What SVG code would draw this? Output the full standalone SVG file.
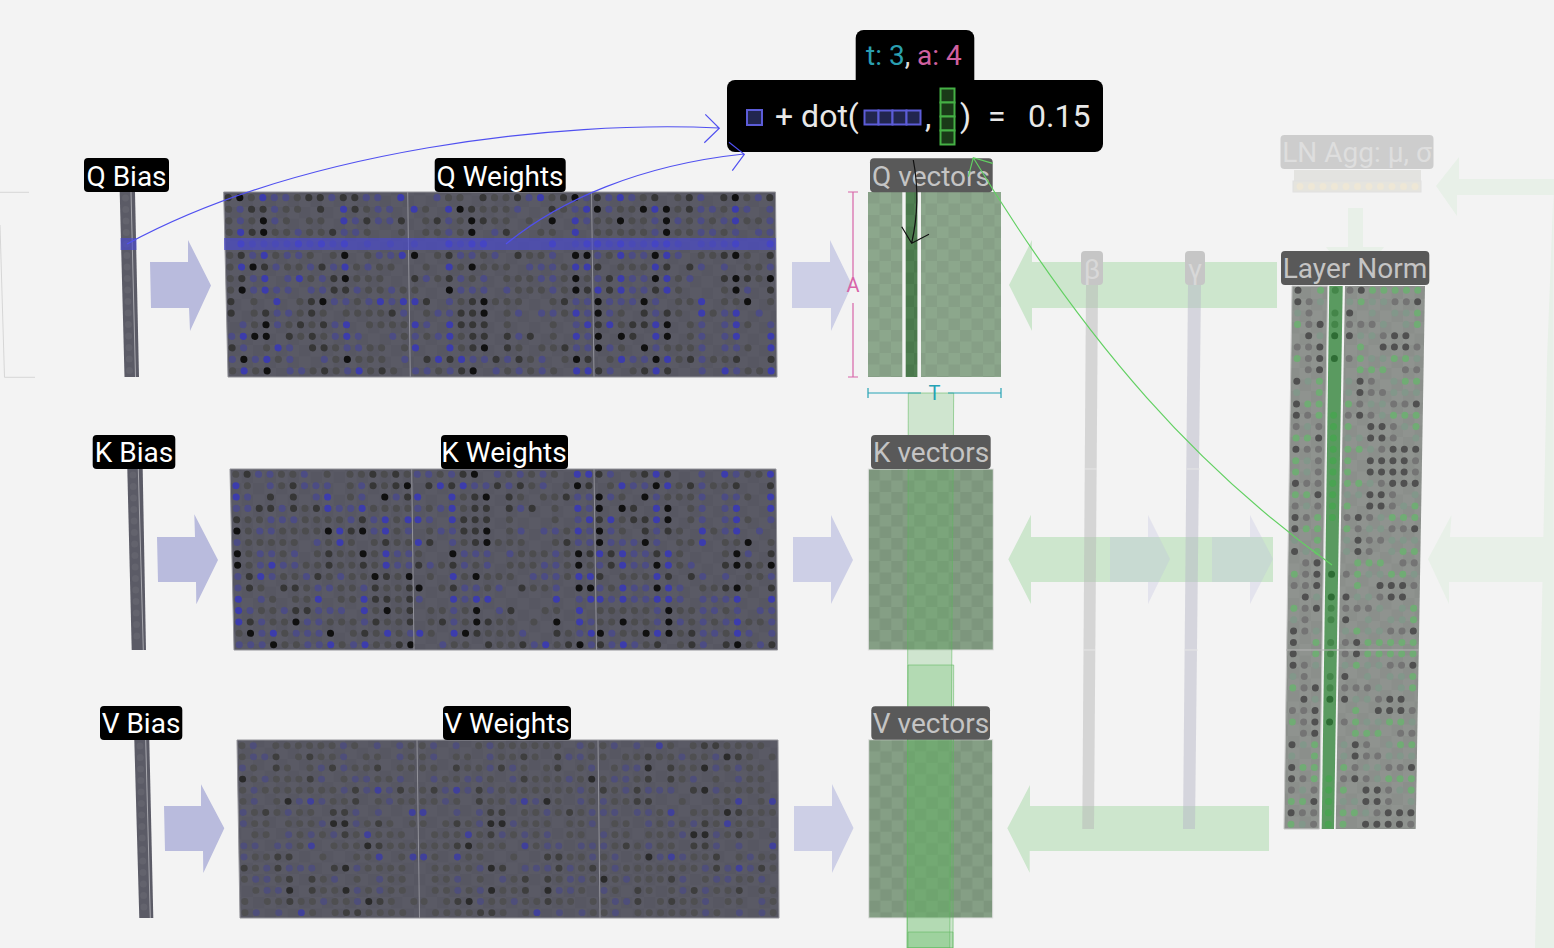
<svg xmlns="http://www.w3.org/2000/svg" width="1554" height="948" viewBox="0 0 1554 948">
<style>
text{font-family:Roboto,"Noto Sans",sans-serif}
.k,.d,.g,.b,.p,.lD,.lM,.lG,.lF,.mk,.mm,.ml{fill:none;stroke-linecap:round;stroke-width:.62}
.k{stroke:var(--k,#101010)}.d{stroke:var(--d,#363636)}.g{stroke:var(--g,#4c4c4e)}.b{stroke:var(--b,#3c3cac)}.p{stroke:var(--p,#4c4c84)}
.lD{stroke:#505050}.lM{stroke:#747474}.lG{stroke:#70ac74}.lF{stroke:#82978a}.mk{stroke:#2e6c34}.mm{stroke:#448549}.ml{stroke:#4aa352}
.faint{--k:#2a2a2a;--d:#3e3e3e;--g:#4f4f51;--b:#40409a;--p:#4e4e7a}
.lbl{fill:#000}.lt{fill:#fff;font-size:28px;text-anchor:middle}
.flbl{fill:#595959}.ft{fill:#c4c4c4;font-size:28px;text-anchor:middle}
.pa{fill:#b9bbdd}.pb{fill:#cdcfe6}.ga{fill:#cde6cd}.gf{fill:#e8f0e8}
.panel{stroke:#94949a;stroke-width:1}
.div{stroke:#92929a;stroke-width:1;fill:none}
.col{fill:#5cb85c;fill-opacity:.24;stroke:#5cb85c;stroke-opacity:.55;stroke-width:1}
.biasd{fill:none;stroke:#63636d;stroke-width:7;stroke-linecap:round;stroke-dasharray:0 11.5}
.bl{fill:none;stroke:#5050f0;stroke-width:1.2}
.gr{fill:none;stroke:#62d062;stroke-width:1.2}
.bk{fill:none;stroke:#111;stroke-width:1.2}
.dimA{fill:none;stroke:#d864a8;stroke-width:1.2}
.dimT{fill:none;stroke:#26a3b5;stroke-width:1.2}
.c1{fill:#22264f;stroke:#5c5cd8;stroke-width:2}
.c2{fill:#1a3a18;stroke:#45b045;stroke-width:2}
</style>
<defs>
<pattern id="cw" width="23" height="23" patternUnits="userSpaceOnUse"><rect width="23" height="23" fill="#5a5a65"/><rect width="11.5" height="11.5" fill="#575762"/><rect x="11.5" y="11.5" width="11.5" height="11.5" fill="#575762"/></pattern>
<pattern id="cq" width="23" height="23" patternUnits="userSpaceOnUse"><rect width="23" height="23" fill="#8ca78c"/><rect width="11.5" height="11.5" fill="#869f86"/><rect x="11.5" y="11.5" width="11.5" height="11.5" fill="#869f86"/></pattern>
<pattern id="ck" width="23" height="23" patternUnits="userSpaceOnUse"><rect width="23" height="23" fill="#859f85"/><rect width="11.5" height="11.5" fill="#7d967d"/><rect x="11.5" y="11.5" width="11.5" height="11.5" fill="#7d967d"/></pattern>
<pattern id="cm" width="23" height="23" patternUnits="userSpaceOnUse"><rect width="23" height="23" fill="#507f52"/><rect width="11.5" height="11.5" fill="#4a784c"/><rect x="11.5" y="11.5" width="11.5" height="11.5" fill="#4a784c"/></pattern>
<pattern id="cl" width="23" height="23" patternUnits="userSpaceOnUse"><rect width="23" height="23" fill="#8f938f"/><rect width="11.5" height="11.5" fill="#8b8f8b"/><rect x="11.5" y="11.5" width="11.5" height="11.5" fill="#8b8f8b"/></pattern>
<g id="Q1">
<path class="k" d="M1 0h0M3 2h0M3 3h0M10 5h0M2 6h0M10 7h0M1 8h0M8 9h0M3 11h0M2 12h0M3 12h0M1 14h0M10 14h0M3 15h0"/>
<path class="d" d="M0 0h0M7 0h0M8 0h0M10 0h0M11 0h0M2 1h0M3 1h0M8 1h0M11 1h0M12 2h0M15 2h0M2 3h0M9 3h0M1 5h0M3 6h0M8 6h0M1 7h0M9 7h0M9 8h0M10 8h0M0 9h0M7 9h0M0 10h0M3 10h0M7 10h0M14 10h0M6 11h0M8 11h0M5 12h0M7 12h0M0 13h0M7 13h0M8 13h0M8 15h0M13 15h0"/>
<path class="b" d="M3 0h0M15 0h0M10 1h0M10 2h0M1 3h0M1 4h0M6 4h0M8 4h0M10 4h0M3 5h0M15 5h0M1 6h0M10 6h0M3 7h0M6 7h0M3 8h0M4 9h0M13 9h0M15 9h0M10 11h0M1 12h0M10 12h0M4 13h0M3 14h0M1 15h0M11 15h0"/>
<path class="p" d="M4 0h0M5 0h0M9 0h0M12 0h0M13 0h0M1 1h0M4 1h0M13 1h0M14 1h0M1 2h0M4 2h0M11 2h0M13 2h0M14 2h0M6 3h0M10 3h0M11 3h0M2 4h0M3 4h0M4 4h0M5 4h0M7 4h0M9 4h0M12 4h0M14 4h0M2 5h0M5 5h0M6 5h0M13 5h0M14 5h0M4 6h0M7 6h0M9 6h0M12 6h0M2 7h0M5 7h0M8 7h0M2 8h0M4 8h0M5 8h0M7 8h0M8 8h0M11 8h0M14 8h0M9 9h0M10 9h0M12 9h0M14 9h0M4 10h0M5 10h0M15 10h0M1 11h0M4 11h0M9 11h0M0 12h0M9 12h0M11 12h0M14 12h0M1 13h0M5 13h0M10 13h0M11 13h0M0 14h0M2 14h0M5 14h0M8 14h0M15 14h0M5 15h0M6 15h0M10 15h0"/>
<path class="g" d="M2 0h0M6 0h0M0 1h0M5 1h0M6 1h0M12 1h0M0 2h0M2 2h0M5 2h0M7 2h0M8 2h0M0 3h0M4 3h0M5 3h0M7 3h0M8 3h0M12 3h0M15 3h0M0 5h0M4 5h0M7 5h0M9 5h0M12 5h0M0 6h0M5 6h0M6 6h0M11 6h0M13 6h0M14 6h0M0 7h0M7 7h0M11 7h0M12 7h0M13 7h0M0 8h0M12 8h0M13 8h0M15 8h0M2 9h0M6 9h0M11 9h0M2 10h0M6 10h0M8 10h0M10 10h0M11 10h0M12 10h0M13 10h0M2 11h0M5 11h0M7 11h0M12 11h0M13 11h0M14 11h0M15 11h0M6 12h0M8 12h0M15 12h0M3 13h0M9 13h0M12 13h0M13 13h0M15 13h0M4 14h0M9 14h0M11 14h0M12 14h0M13 14h0M0 15h0M2 15h0M7 15h0M9 15h0M12 15h0M14 15h0"/>
</g>
<g id="Q2">
<path class="k" d="M14 0h0M4 1h0M5 2h0M12 2h0M5 3h0M0 5h0M14 5h0M15 5h0M5 6h0M14 7h0M3 8h0M14 8h0M6 9h0M6 10h0M6 13h0M14 14h0M5 15h0"/>
<path class="d" d="M6 0h0M9 0h0M13 0h0M5 1h0M12 1h0M6 2h0M2 2h0M8 3h0M3 5h0M9 5h0M0 7h0M3 7h0M15 8h0M1 9h0M5 9h0M13 9h0M4 10h0M5 10h0M4 11h0M5 11h0M6 11h0M5 12h0M6 12h0M8 12h0M10 12h0M5 13h0M8 13h0M13 13h0M1 14h0M3 14h0M7 14h0M9 14h0M15 14h0M4 15h0"/>
<path class="b" d="M11 0h0M0 1h0M3 1h0M15 1h0M14 2h0M14 3h0M3 4h0M5 4h0M6 4h0M12 4h0M15 4h0M3 6h0M14 6h0M15 6h0M0 9h0M14 10h0M0 11h0M3 11h0M15 11h0M3 12h0M14 12h0M0 13h0M3 13h0M2 14h0M4 14h0M14 15h0M15 15h0"/>
<path class="p" d="M2 0h0M10 0h0M15 0h0M9 1h0M14 1h0M3 2h0M15 2h0M3 3h0M7 3h0M0 4h0M4 4h0M14 4h0M4 5h0M5 5h0M7 5h0M12 5h0M10 6h0M11 6h0M12 6h0M1 7h0M4 7h0M6 7h0M11 7h0M12 7h0M4 8h0M5 8h0M6 8h0M8 8h0M12 8h0M3 9h0M14 9h0M15 9h0M2 10h0M3 10h0M9 10h0M11 10h0M12 10h0M15 10h0M1 11h0M14 11h0M0 12h0M2 12h0M9 12h0M15 12h0M14 13h0M15 13h0M5 14h0M6 14h0M8 14h0M11 14h0M0 15h0M1 15h0M3 15h0M7 15h0M9 15h0M11 15h0"/>
<path class="g" d="M3 0h0M4 0h0M7 0h0M8 0h0M12 0h0M1 1h0M6 1h0M7 1h0M8 1h0M13 1h0M1 2h0M4 2h0M7 2h0M8 2h0M10 2h0M1 3h0M2 3h0M4 3h0M11 3h0M12 3h0M2 5h0M6 5h0M10 5h0M11 5h0M1 6h0M4 6h0M6 6h0M7 6h0M8 6h0M13 6h0M2 7h0M5 7h0M8 7h0M9 7h0M10 7h0M13 7h0M15 7h0M0 8h0M9 8h0M10 8h0M11 8h0M13 8h0M4 9h0M7 9h0M8 9h0M9 9h0M12 9h0M1 10h0M8 10h0M13 10h0M8 11h0M12 11h0M1 12h0M4 12h0M12 12h0M4 13h0M9 13h0M11 13h0M12 13h0M10 14h0M13 14h0M2 15h0M8 15h0M10 15h0M12 15h0"/>
</g>
<g id="Q3">
<path class="k" d="M12 0h0M0 1h0M4 1h0M6 1h0M2 2h0M6 2h0M6 3h0M5 5h0M12 5h0M5 7h0M12 7h0M15 7h0M12 8h0M0 9h0M4 9h0M13 9h0M0 10h0M6 11h0M0 12h0M2 12h0M6 12h0M0 13h0M4 13h0M5 14h0"/>
<path class="d" d="M0 0h0M5 0h0M8 0h0M11 0h0M15 0h0M8 1h0M11 5h0M15 5h0M0 6h0M6 6h0M8 6h0M1 7h0M11 7h0M13 7h0M1 8h0M5 8h0M15 8h0M4 10h0M6 10h0M0 11h0M3 11h0M4 11h0M3 12h0M8 14h0M12 14h0M15 14h0M0 15h0M4 15h0M6 15h0"/>
<path class="b" d="M2 0h0M5 1h0M12 1h0M12 2h0M0 4h0M2 4h0M5 4h0M6 4h0M12 4h0M15 4h0M2 5h0M6 5h0M5 6h0M2 7h0M6 7h0M0 8h0M2 8h0M6 8h0M9 9h0M9 10h0M12 10h0M1 11h0M5 11h0M12 11h0M5 12h0M12 12h0M15 12h0M15 13h0M2 14h0M6 14h0M5 15h0M11 15h0M15 15h0"/>
<path class="p" d="M1 0h0M3 0h0M9 0h0M14 0h0M1 1h0M9 1h0M10 1h0M13 1h0M15 1h0M5 2h0M7 2h0M9 2h0M11 2h0M15 2h0M5 3h0M9 3h0M10 3h0M12 3h0M14 3h0M15 3h0M1 4h0M3 4h0M4 4h0M7 4h0M9 4h0M10 4h0M11 4h0M0 5h0M3 5h0M4 5h0M7 5h0M9 6h0M11 6h0M15 6h0M0 7h0M3 7h0M4 7h0M8 7h0M3 8h0M4 8h0M13 8h0M1 9h0M2 9h0M3 9h0M5 9h0M1 10h0M5 10h0M11 10h0M14 10h0M9 11h0M11 11h0M15 11h0M9 12h0M11 12h0M1 13h0M5 13h0M9 13h0M11 13h0M12 13h0M3 14h0M4 14h0M9 14h0M1 15h0M9 15h0M12 15h0"/>
<path class="g" d="M4 0h0M7 0h0M13 0h0M2 1h0M3 1h0M7 1h0M11 1h0M0 2h0M1 2h0M3 2h0M4 2h0M8 2h0M10 2h0M13 2h0M14 2h0M0 3h0M1 3h0M2 3h0M3 3h0M4 3h0M7 3h0M8 3h0M11 3h0M1 5h0M9 5h0M10 5h0M13 5h0M2 6h0M3 6h0M4 6h0M13 6h0M14 6h0M7 7h0M14 7h0M7 8h0M11 8h0M7 9h0M8 9h0M11 9h0M12 9h0M15 9h0M2 10h0M7 10h0M10 10h0M2 11h0M8 11h0M13 11h0M8 12h0M2 13h0M6 13h0M7 13h0M8 13h0M13 13h0M1 14h0M7 14h0M10 14h0M11 14h0M3 15h0M13 15h0M14 15h0"/>
</g>
<g id="K1">
<path class="k" d="M15 1h0M13 2h0M0 5h0M8 5h0M11 5h0M0 7h0M11 7h0M0 8h0M12 9h0M15 9h0M13 12h0M5 13h0M1 14h0M8 14h0M3 15h0M15 15h0"/>
<path class="d" d="M1 0h0M12 0h0M14 0h0M5 1h0M12 1h0M14 1h0M3 2h0M5 2h0M15 2h0M2 3h0M3 3h0M5 3h0M7 3h0M0 4h0M11 4h0M10 5h0M13 6h0M8 7h0M8 8h0M11 8h0M1 9h0M7 9h0M13 9h0M1 10h0M4 10h0M5 10h0M12 10h0M15 10h0M12 11h0M13 11h0M15 11h0M5 12h0M6 12h0M15 12h0M1 13h0M12 13h0M15 13h0M11 14h0M14 15h0"/>
<path class="b" d="M0 1h0M0 2h0M8 2h0M8 3h0M11 3h0M13 4h0M15 4h0M9 5h0M13 5h0M9 6h0M13 7h0M3 8h0M13 8h0M2 9h0M0 11h0M7 11h0M11 11h0M0 12h0M11 12h0M0 13h0M3 14h0M13 14h0M8 15h0M11 15h0"/>
<path class="p" d="M2 0h0M3 0h0M6 0h0M3 1h0M6 1h0M7 1h0M8 1h0M11 1h0M1 2h0M7 2h0M11 2h0M14 2h0M0 3h0M1 3h0M4 3h0M9 3h0M10 3h0M3 4h0M4 4h0M5 4h0M10 4h0M12 4h0M2 5h0M3 5h0M12 5h0M15 5h0M0 6h0M7 6h0M2 7h0M3 7h0M5 7h0M14 7h0M15 7h0M2 8h0M4 8h0M5 8h0M14 8h0M15 8h0M0 9h0M3 9h0M6 9h0M9 9h0M0 10h0M7 10h0M8 10h0M11 10h0M2 11h0M1 12h0M4 12h0M7 12h0M8 12h0M9 12h0M2 13h0M6 13h0M7 13h0M11 13h0M2 14h0M5 14h0M6 14h0M7 14h0M15 14h0M0 15h0M1 15h0M2 15h0M6 15h0M7 15h0M10 15h0"/>
<path class="g" d="M0 0h0M4 0h0M5 0h0M8 0h0M10 0h0M11 0h0M13 0h0M15 0h0M1 1h0M4 1h0M10 1h0M13 1h0M10 2h0M6 3h0M12 3h0M13 3h0M14 3h0M15 3h0M1 4h0M2 4h0M6 4h0M7 4h0M8 4h0M9 4h0M14 4h0M1 5h0M4 5h0M5 5h0M6 5h0M7 5h0M14 5h0M1 6h0M2 6h0M3 6h0M4 6h0M5 6h0M8 6h0M10 6h0M12 6h0M14 6h0M15 6h0M1 7h0M4 7h0M7 7h0M9 7h0M10 7h0M12 7h0M1 8h0M6 8h0M7 8h0M9 8h0M10 8h0M12 8h0M4 9h0M5 9h0M8 9h0M10 9h0M11 9h0M14 9h0M2 10h0M6 10h0M9 10h0M10 10h0M13 10h0M14 10h0M3 11h0M5 11h0M6 11h0M9 11h0M10 11h0M14 11h0M2 12h0M3 12h0M12 12h0M14 12h0M3 13h0M4 13h0M8 13h0M9 13h0M10 13h0M13 13h0M14 13h0M0 14h0M4 14h0M10 14h0M12 14h0M14 14h0M4 15h0M5 15h0M9 15h0M12 15h0M13 15h0"/>
</g>
<g id="V1">
<path class="k" d="M0 3h0M4 5h0M8 7h0M9 7h0M11 9h0M9 11h0M4 13h0M9 13h0M11 14h0"/>
<path class="d" d="M3 1h0M6 1h0M3 2h0M8 2h0M12 2h0M6 3h0M10 4h0M14 4h0M10 5h0M2 6h0M8 6h0M9 6h0M12 7h0M9 8h0M12 9h0M3 10h0M4 10h0M0 11h0M3 11h0M8 11h0M4 12h0M6 12h0M6 13h0M4 14h0M12 14h0M9 15h0M10 15h0"/>
<path class="b" d="M12 4h0M6 5h0M15 6h0M11 8h0M6 9h0M12 10h0M15 10h0M5 15h0"/>
<path class="p" d="M1 0h0M9 0h0M12 0h0M14 0h0M1 1h0M2 1h0M9 1h0M14 1h0M0 2h0M7 2h0M9 2h0M2 3h0M7 3h0M10 3h0M11 3h0M14 3h0M1 4h0M9 4h0M11 4h0M13 4h0M1 5h0M5 5h0M7 5h0M13 5h0M0 6h0M4 6h0M10 6h0M12 6h0M0 7h0M7 7h0M10 7h0M4 8h0M6 8h0M8 8h0M0 9h0M1 9h0M3 9h0M4 9h0M0 10h0M2 11h0M4 11h0M5 11h0M6 11h0M10 11h0M1 12h0M2 12h0M8 12h0M12 12h0M2 13h0M3 13h0M10 13h0M12 13h0M7 14h0M10 14h0M1 15h0M3 15h0"/>
<path class="g" d="M0 0h0M3 0h0M4 0h0M5 0h0M6 0h0M7 0h0M8 0h0M10 0h0M15 0h0M0 1h0M5 1h0M7 1h0M8 1h0M11 1h0M12 1h0M15 1h0M1 2h0M4 2h0M6 2h0M10 2h0M11 2h0M14 2h0M15 2h0M1 3h0M3 3h0M4 3h0M5 3h0M9 3h0M12 3h0M13 3h0M0 4h0M2 4h0M3 4h0M4 4h0M5 4h0M6 4h0M7 4h0M8 4h0M15 4h0M0 5h0M3 5h0M8 5h0M9 5h0M12 5h0M14 5h0M15 5h0M1 6h0M3 6h0M5 6h0M6 6h0M1 7h0M2 7h0M4 7h0M5 7h0M6 7h0M11 7h0M13 7h0M15 7h0M1 8h0M2 8h0M5 8h0M7 8h0M10 8h0M12 8h0M13 8h0M14 8h0M5 9h0M8 9h0M9 9h0M10 9h0M13 9h0M14 9h0M15 9h0M1 10h0M2 10h0M7 10h0M10 10h0M11 10h0M14 10h0M1 11h0M11 11h0M12 11h0M13 11h0M14 11h0M0 12h0M3 12h0M7 12h0M10 12h0M13 12h0M14 12h0M1 13h0M7 13h0M8 13h0M11 13h0M13 13h0M14 13h0M0 14h0M2 14h0M3 14h0M5 14h0M6 14h0M8 14h0M9 14h0M13 14h0M15 14h0M0 15h0M6 15h0M8 15h0M11 15h0M12 15h0M13 15h0M14 15h0"/>
</g>
<g id="L1">
<path class="lD" d="M0 0h0M5.6 0h0M0 1h0M10.6 1h0M4.6 2h0M2 3h0M1 4h0M4.6 4h0M8.6 4h0M9.6 4h0M2 5h0M7.6 5h0M8.6 5h0M9.6 5h0M2 6h0M2 7h0M0 8h0M5.6 8h0M5.6 9h0M0 10h0M10.6 10h0M0 11h0M5.6 11h0M6.6 12h0M7.6 12h0M2 13h0M6.6 13h0M7.6 13h0M0 14h0M8.6 14h0M9.6 14h0M10.6 14h0M6.6 15h0M7.6 15h0M8.6 15h0M9.6 15h0"/>
<path class="lM" d="M4.6 0h0M1 1h0M8.6 1h0M9.6 1h0M1 2h0M1 3h0M4.6 3h0M5.6 3h0M6.6 3h0M7.6 4h0M0 5h0M1 5h0M10.6 5h0M1 6h0M4.6 6h0M1 7h0M9.6 7h0M10.6 7h0M6.6 8h0M6.6 9h0M7.6 9h0M5.6 10h0M8.6 10h0M9.6 10h0M1 11h0M4.6 11h0M6.6 11h0M0 12h0M2 12h0M8.6 12h0M8.6 13h0M1 14h0M2 14h0M7.6 14h0M2 15h0M10.6 15h0"/>
<path class="lG" d="M2 0h0M6.6 0h0M7.6 0h0M8.6 0h0M9.6 0h0M10.6 0h0M5.6 1h0M10.6 2h0M0 3h0M10.6 3h0M5.6 5h0M0 6h0M5.6 6h0M8.6 6h0M9.6 6h0M5.6 7h0M6.6 7h0M7.6 7h0M2 8h0M9.6 8h0M10.6 8h0M2 9h0M1 10h0M2 10h0M4.6 10h0M2 11h0M8.6 11h0M9.6 11h0M10.6 11h0M4.6 12h0M10.6 12h0M0 13h0M1 13h0M4.6 14h0M5.6 14h0M0 15h0M4.6 15h0"/>
<path class="lF" d="M2 1h0M4.6 1h0M6.6 1h0M7.6 1h0M0 2h0M6.6 2h0M8.6 2h0M9.6 2h0M7.6 3h0M9.6 3h0M2 4h0M5.6 4h0M6.6 4h0M6.6 6h0M7.6 6h0M10.6 6h0M1 8h0M4.6 8h0M8.6 8h0M0 9h0M4.6 9h0M8.6 9h0M9.6 9h0M10.6 9h0M6.6 10h0M7.6 10h0M7.6 11h0M1 12h0M9.6 12h0M4.6 13h0M5.6 13h0M10.6 13h0M6.6 14h0M1 15h0"/>
<path class="mk" d="M3.3 4h0M3.3 6h0"/>
<path class="mm" d="M3.3 0h0M3.3 2h0M3.3 3h0"/>
<path class="ml" d="M3.3 11h0M3.3 12h0M3.3 13h0M3.3 14h0M3.3 15h0"/>
</g>
</defs>

<rect width="1554" height="948" fill="#f3f3f3"/>

<g id="faded-bracket" fill="none" stroke="#d6d6d6" stroke-width="1"><path d="M0 192.3H29M0 225L4.5 377.3H35"/></g>

<g id="lnagg">
<polygon class="gf" points="1554,179 1459,179 1459,157 1436,186 1457,216 1457,195 1554,195"/>
<polygon class="gf" points="1348,208 1363,208 1363,247 1384,247 1356,285 1326,247 1348,247"/>
<rect x="1294" y="170" width="127" height="11" fill="#e3e3e0"/>
<rect x="1293" y="181" width="128" height="11" fill="#e5e4de" stroke="#e0e0e0"/>
<path d="M1300 186.5H1416" fill="none" stroke="#eee7d6" stroke-width="7" stroke-linecap="round" stroke-dasharray="0 11.5"/>
<rect x="1280.500" y="135" width="153" height="34" rx="4" fill="#cdcdcd"/>
<text x="1357" y="162" font-size="28" text-anchor="middle" fill="#dedede">LN Agg: μ, σ</text>
</g>

<g id="faded-flow">
<polygon class="gf" points="1553.500,190 1554,948 1535,948 1547,360"/>
<polygon class="gf" points="1544,537 1450,537 1451.500,515 1428,559 1449,604 1449,582 1544,582"/>
</g>

<g id="green-arrows">
<polygon class="ga" points="1277,262 1032,262 1032,240 1009,285 1032,331 1032,308 1277,308"/>
<polygon class="ga" points="1273,537 1031,537 1031,514.700 1008.300,559.300 1031,604 1031,582 1273,582"/>
<polygon class="ga" points="1269,806 1030,806 1030,785 1007.300,828.300 1029.700,872.700 1029.700,851 1269,851"/>
</g>

<g id="beta">
<polygon points="1086,285 1098,285 1094,829 1082.300,829" fill="#b8b8b8" fill-opacity=".5"/>
<path d="M1085 469H1097M1083 650H1095" stroke="#e6e6e6" fill="none"/>
<rect x="1081" y="251" width="22" height="34" rx="4" fill="#c6c6c6"/>
<text x="1092" y="279" font-size="28" text-anchor="middle" fill="#d8d8d8">β</text>
</g>
<g id="gamma">
<polygon points="1188,285 1201,285 1195,829 1183,829" fill="#b8b8c8" fill-opacity=".5"/>
<path d="M1187 469H1200M1185 650H1198" stroke="#e6e6e6" fill="none"/>
<rect x="1185" y="251" width="20" height="34" rx="4" fill="#c6c6c6"/>
<text x="1195" y="279" font-size="28" text-anchor="middle" fill="#d8d8d8">γ</text>
</g>
<g id="purple-overlays">
<polygon points="1110,537 1148,537 1148,515 1170,559 1148,604 1148,582 1110,582" fill="#b9bbdd" fill-opacity=".28"/>
<polygon points="1212,537 1250,537 1250,515 1273,559 1250,604 1250,582 1212,582" fill="#b9bbdd" fill-opacity=".28"/>
</g>

<g id="q-bias">
<polygon points="119.700,192 135,192 139,377 124.500,377" fill="#5b5b66"/>
<path class="biasd" d="M125.500 198L129.500 372"/>
<path d="M131 192L135.500 377" stroke="#a8a8ae" fill="none"/>
<rect x="120.500" y="238" width="16" height="12" fill="#4a4ad0" fill-opacity=".65"/>
<rect class="lbl" x="84" y="158" width="85" height="34" rx="4"/><text class="lt" x="126.500" y="185.500">Q Bias</text>
</g>
<g id="k-bias">
<polygon points="127.300,469 142.700,469 146,650 131.700,650" fill="#5b5b66"/>
<path class="biasd" d="M133 475L137 645"/>
<path d="M138.300 469L143.300 650" stroke="#a8a8ae" fill="none"/>
<rect class="lbl" x="92.700" y="435" width="82.600" height="34" rx="4"/><text class="lt" x="134" y="462">K Bias</text>
</g>
<g id="v-bias">
<polygon points="134.300,740 149.300,740 153.300,918 139.300,918" fill="#5b5b66"/>
<path class="biasd" d="M140 746L144 912"/>
<path d="M145.700 740L150.300 918" stroke="#a8a8ae" fill="none"/>
<rect class="lbl" x="100" y="706" width="82.300" height="34" rx="4"/><text class="lt" x="141" y="733">V Bias</text>
</g>

<g id="purple-arrows">
<polygon class="pa" points="150,262 188,262 188,240 211,285.500 190,331 189,308 151,308"/>
<polygon class="pa" points="157,537 195,537 194.300,514.300 218,560 196.300,604.300 196,582 158,582"/>
<polygon class="pa" points="164,806 201,806 201,784.300 224.300,828.300 203.300,873 203,851 165,851"/>
<polygon class="pb" points="792,262 830,262 830,240 852,285 831,331 831,308 792,308"/>
<polygon class="pb" points="793,537 831,537 831,515 853,560 831,604 831,582 793,582"/>
<polygon class="pb" points="794,806 832,806 832,784 853.500,828 832,873 832,851 794,851"/>
</g>

<g id="q-weights">
<polygon class="panel" points="223.700,192 775.500,192 777,377 228,377" fill="url(#cw)"/>
<use href="#Q1" transform="matrix(11.5,0,.29,11.55,228.300,197.700)"/>
<use href="#Q2" transform="matrix(11.5,0,.11,11.55,414,197.700)"/>
<use href="#Q3" transform="matrix(11.5,0,.09,11.55,597.300,197.700)"/>
<path class="div" d="M407.700 192L410.300 377M591.500 192L594 377"/>
<rect x="224" y="238" width="552" height="12" fill="#4a4ad0" fill-opacity=".65"/>
<rect class="lbl" x="434.700" y="158" width="131" height="34" rx="4"/><text class="lt" x="500" y="185.500">Q Weights</text>
</g>
<g id="k-weights">
<polygon class="panel" points="230,469 776,469 777.500,650 234,650" fill="url(#cw)"/>
<use href="#K1" transform="matrix(11.43,0,.24,11.36,235.700,474.300)"/>
<use href="#Q2" transform="matrix(11.43,0,-.18,-11.36,420,644.700)"/>
<use href="#Q3" transform="matrix(11.43,0,-.1,-11.36,600.500,644.700)"/>
<path class="div" d="M411.700 469L414 650M594 469L596.500 650"/>
<rect class="lbl" x="441" y="435" width="127" height="34" rx="4"/><text class="lt" x="504" y="462">K Weights</text>
</g>
<g id="v-weights" class="faint">
<polygon class="panel" points="237,740 778,740 779,918 240,918" fill="url(#cw)"/>
<use href="#V1" transform="matrix(11.27,0,.2,11.13,242,745.700)"/>
<use href="#V1" transform="matrix(-11.27,0,.13,11.13,591.350,745.700)"/>
<use href="#V1" transform="matrix(11.27,0,-.08,-11.13,604.200,912.700)"/>
<path class="div" d="M417 740L419.500 918M598 740L600 918"/>
<rect class="lbl" x="443" y="706" width="128" height="34" rx="4"/><text class="lt" x="507" y="733">V Weights</text>
</g>

<g id="q-vectors">
<g transform="translate(868,192)">
<rect width="34.300" height="185" fill="url(#cq)"/>
<rect x="37.700" width="11.700" height="185" fill="url(#cm)"/>
<rect x="53" width="80" height="185" fill="url(#cq)"/>
</g>
<rect x="870" y="158.300" width="122.700" height="34" rx="4" class="flbl"/><text class="ft" x="931" y="185.500">Q vectors</text>
</g>
<g id="k-vectors">
<g transform="translate(868.300,469)"><rect width="125" height="181" fill="url(#ck)" stroke="#e0e0e0"/></g>
</g>
<g id="v-vectors">
<g transform="translate(868.700,739.700)"><rect width="124" height="178.300" fill="url(#ck)" stroke="#e0e0e0"/></g>
</g>

<g id="layer-norm">
<polygon points="1292,286 1327.700,286 1319.300,829 1284,829" fill="url(#cl)" stroke="#c8c8c8"/>
<polygon points="1329.300,286 1342.700,286 1334,829 1321.700,829" fill="#5a9a60"/>
<polygon points="1345,286 1425,286 1415.700,829 1335.700,829" fill="url(#cl)"/>
<use href="#L1" transform="matrix(11.3,0,-.149,11.36,1298,290.300)"/>
<use href="#L1" transform="matrix(11.3,0,.149,-11.36,1293.400,642.400)"/>
<use href="#L1" transform="matrix(11.3,0,-.149,11.36,1293.200,653.800)"/>
<path d="M1286 650H1419" stroke="#b4b4b4" fill="none"/>
<rect x="1281" y="251" width="148.300" height="34" rx="4" class="flbl"/><text class="ft" x="1355" y="278">Layer Norm</text>
</g>

<g id="data-columns">
<polygon class="col" points="908.300,393 953.700,393 949.700,948 907,948"/>
<polygon class="col" points="908,665 953.700,665 953,948 907.300,948"/>
<polygon class="col" points="908,932 953,932 953,948 908,948"/>
</g>
<g id="v-label"><rect x="871.300" y="706.300" width="118.700" height="33.400" rx="4" class="flbl"/><text class="ft" x="931" y="733">V vectors</text></g>
<g id="k-label"><rect x="871" y="435" width="119.700" height="34" rx="4" class="flbl"/><text class="ft" x="931" y="462">K vectors</text></g>

<g id="dims">
<path class="dimA" d="M853 192V277M853 303V377M848 192H858M848 377H858"/>
<text x="853" y="292" font-size="20" text-anchor="middle" fill="#d864a8">A</text>
<path class="dimT" d="M868 393H921M948 393H1001M868 388V398M1001 388V398"/>
<text x="934.500" y="400" font-size="20" text-anchor="middle" fill="#26a3b5">T</text>
</g>

<g id="tooltip">
<rect x="855.700" y="30" width="118.600" height="70" rx="8" fill="#000"/>
<rect x="727" y="80" width="376" height="72" rx="8" fill="#000"/>
<text x="866" y="65" font-size="28"><tspan fill="#2a9fb0">t: 3</tspan><tspan fill="#ddd">, </tspan><tspan fill="#d060a0">a: 4</tspan></text>
<rect class="c1" x="747" y="110" width="15" height="15"/>
<text x="775" y="127" font-size="32" fill="#e8e8e8">+ dot(</text>
<rect class="c1" x="864.500" y="110.500" width="14" height="14"/><rect class="c1" x="878.500" y="110.500" width="14" height="14"/><rect class="c1" x="892.500" y="110.500" width="14" height="14"/><rect class="c1" x="906.500" y="110.500" width="14" height="14"/>
<text x="925" y="127" font-size="32" fill="#e8e8e8">,</text>
<rect class="c2" x="940.500" y="88.500" width="14" height="14"/><rect class="c2" x="940.500" y="102.500" width="14" height="14"/><rect class="c2" x="940.500" y="116.500" width="14" height="14"/><rect class="c2" x="940.500" y="130.500" width="14" height="14"/>
<text x="960" y="127" font-size="32" fill="#e8e8e8">)</text>
<text x="988" y="127" font-size="32" fill="#e8e8e8">=</text>
<text x="1028" y="127" font-size="32" fill="#e8e8e8">0.15</text>
</g>

<g id="connectors">
<path class="bl" d="M127 244C300 150 560 120 719 128M705.300 114.300L719.300 128.300L704.300 142.700"/>
<path class="bl" d="M506 244C560 200 640 165 744 154M729 142.300L744.300 154.300L732.300 170.700"/>
<path class="bk" d="M913.300 160C919 190 918 215 911.700 243M901.700 226.700L911.700 243.300L929 234.300"/>
<path class="gr" d="M1332 565C1200 470 1090 350 973.300 157.700M968.300 176.700L973.300 157.700L992.700 163.300"/>
</g>
</svg>
